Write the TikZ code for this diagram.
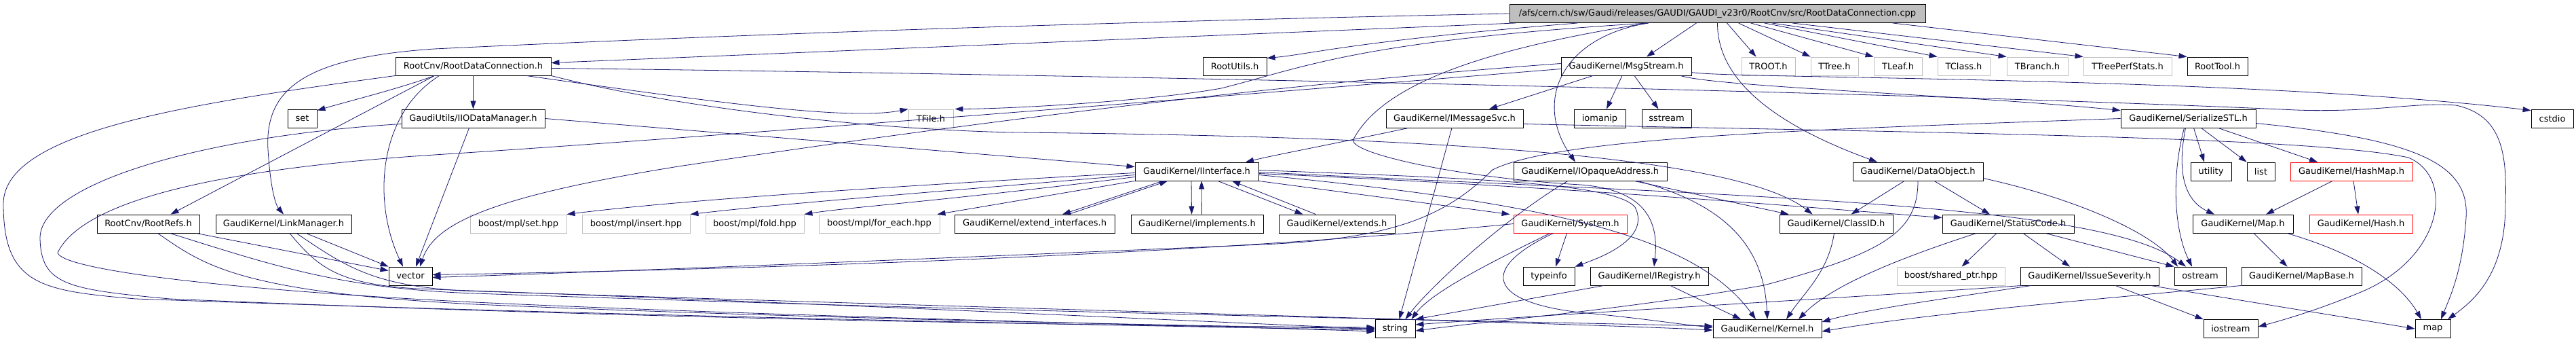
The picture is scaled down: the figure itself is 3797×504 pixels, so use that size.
\documentclass[tikz,border=0pt]{standalone}
\usepackage{fontspec}
\setmainfont{DejaVu Sans}
\usetikzlibrary{arrows.meta}
\definecolor{edgeblue}{HTML}{191970}
\definecolor{greyb}{HTML}{BFBFBF}
\begin{document}
\begin{tikzpicture}[x=1pt,y=-1pt,
  box/.style={draw=black, line width=0.9pt, inner sep=0pt, minimum height=27pt, font=\fontsize{13}{15}\selectfont, text=black},
  gbox/.style={box, draw=greyb},
  rbox/.style={box, draw=red},
  e/.style={draw=edgeblue, line width=0.8pt, -{Triangle[length=12pt,width=8pt]}}]
\useasboundingbox[fill=white] (0,0) rectangle (3797,504);
% row 0
\node[box, fill=greyb, minimum width=613pt] (root) at (2531.5,20) {/afs/cern.ch/sw/Gaudi/releases/GAUDI/GAUDI\_v23r0/RootCnv/src/RootDataConnection.cpp};
% row 1
\node[box, minimum width=229pt] (rdc) at (697.5,97.5) {RootCnv/RootDataConnection.h};
\node[box, minimum width=94pt] (rootutils) at (1820,97.5) {RootUtils.h};
\node[box, minimum width=192pt] (msgstream) at (2397,97.5) {GaudiKernel/MsgStream.h};
\node[gbox, minimum width=79pt] (troot) at (2606.5,97.5) {TROOT.h};
\node[gbox, minimum width=70pt] (ttree) at (2704,97.5) {TTree.h};
\node[gbox, minimum width=71pt] (tleaf) at (2797.5,97.5) {TLeaf.h};
\node[gbox, minimum width=77pt] (tclass) at (2894.5,97.5) {TClass.h};
\node[gbox, minimum width=90pt] (tbranch) at (3003,97.5) {TBranch.h};
\node[gbox, minimum width=130pt] (tperf) at (3136,97.5) {TTreePerfStats.h};
\node[box, minimum width=89pt] (roottool) at (3268.5,97.5) {RootTool.h};
% row 2
\node[box, minimum width=43pt] (set) at (445.5,174.5) {set};
\node[box, minimum width=211pt] (iiodm) at (697.5,174.5) {GaudiUtils/IIODataManager.h};
\node[gbox, minimum width=66pt] (tfile) at (1372,174.5) {TFile.h};
\node[box, minimum width=202pt] (imsgsvc) at (2144,174.5) {GaudiKernel/IMessageSvc.h};
\node[box, minimum width=76pt] (iomanip) at (2358,174.5) {iomanip};
\node[box, minimum width=73pt] (sstream) at (2456.5,174.5) {sstream};
\node[box, minimum width=199pt] (serstl) at (3225.5,174.5) {GaudiKernel/SerializeSTL.h};
\node[box, minimum width=62pt] (cstdio) at (3762,174.5) {cstdio};
% row 3
\node[box, minimum width=182pt] (iinterface) at (1764,252.5) {GaudiKernel/IInterface.h};
\node[box, minimum width=226pt] (iopaque) at (2344,252.5) {GaudiKernel/IOpaqueAddress.h};
\node[box, minimum width=192pt] (dataobj) at (2827,252.5) {GaudiKernel/DataObject.h};
\node[box, minimum width=60pt] (utility) at (3259,252.5) {utility};
\node[box, minimum width=41pt] (list) at (3332.5,252.5) {list};
\node[rbox, minimum width=180pt] (hashmap) at (3466,252.5) {GaudiKernel/HashMap.h};
% row 4
\node[box, minimum width=151pt] (rootrefs) at (218.5,329.5) {RootCnv/RootRefs.h};
\node[box, minimum width=200pt] (linkmgr) at (418,329.5) {GaudiKernel/LinkManager.h};
\node[gbox, minimum width=142pt] (bset) at (764,329.5) {boost/mpl/set.hpp};
\node[gbox, minimum width=159pt] (binsert) at (937.5,329.5) {boost/mpl/insert.hpp};
\node[gbox, minimum width=145pt] (bfold) at (1112.5,329.5) {boost/mpl/fold.hpp};
\node[gbox, minimum width=178pt] (bforeach) at (1296,329.5) {boost/mpl/for\_each.hpp};
\node[box, minimum width=236pt] (extif) at (1525,329.5) {GaudiKernel/extend\_interfaces.h};
\node[box, minimum width=195pt] (implements) at (1764.5,329.5) {GaudiKernel/implements.h};
\node[box, minimum width=171pt] (extends) at (1970.5,329.5) {GaudiKernel/extends.h};
\node[rbox, minimum width=167pt] (system) at (2314.5,329.5) {GaudiKernel/System.h};
\node[box, minimum width=167pt] (classid) at (2706.5,329.5) {GaudiKernel/ClassID.h};
\node[box, minimum width=194pt] (statuscode) at (2960,329.5) {GaudiKernel/StatusCode.h};
\node[box, minimum width=148pt] (mapH) at (3306,329.5) {GaudiKernel/Map.h};
\node[rbox, minimum width=152pt] (hash) at (3480,329.5) {GaudiKernel/Hash.h};
% row 5
\node[box, minimum width=64pt] (vector) at (605,406.5) {vector};
\node[box, minimum width=76pt] (typeinfo) at (2283,406.5) {typeinfo};
\node[box, minimum width=174pt] (iregistry) at (2431,406.5) {GaudiKernel/IRegistry.h};
\node[gbox, minimum width=159pt] (sharedptr) at (2875.5,406.5) {boost/shared\_ptr.hpp};
\node[box, minimum width=204pt] (issuesev) at (3080,406.5) {GaudiKernel/IssueSeverity.h};
\node[box, minimum width=76pt] (ostream) at (3243,406.5) {ostream};
\node[box, minimum width=177pt] (mapbase) at (3392.5,406.5) {GaudiKernel/MapBase.h};
% row 6
\node[box, minimum width=59pt] (string) at (2056.5,484) {string};
\node[box, minimum width=160pt] (kernel) at (2605,484) {GaudiKernel/Kernel.h};
\node[box, minimum width=80pt] (iostream) at (3288,484) {iostream};
\node[box, minimum width=52pt] (map) at (3586,484) {map};

% ---- edges from root
\draw[e] ([xshift=10pt]root.south west) -- ([yshift=5pt]rdc.east);
\draw[e] (root.west) .. controls (1500,35) and (1000,55) .. (640,72) .. controls (450,85) and (390,130) .. (395,220) .. controls (398,270) and (405,300) .. (linkmgr.north);
\draw[e] ([xshift=-206pt]root.south) .. controls (2000,60) and (1930,80) .. ([yshift=-2pt]rootutils.north east);
\draw[e] ([xshift=-102pt]root.south) .. controls (2000,60) and (1920,100) .. (1800,130) .. controls (1700,148) and (1500,160) .. ([xshift=2pt]tfile.north east);
\draw[e] ([xshift=-31pt]root.south) -- ([xshift=30pt]msgstream.north);
\draw[e] ([xshift=14pt]root.south) -- ([xshift=-18pt]troot.north);
\draw[e] ([xshift=31pt]root.south) -- (ttree.north west);
\draw[e] ([xshift=49pt]root.south) -- (tleaf.north west);
\draw[e] ([xshift=69pt]root.south) -- (tclass.north west);
\draw[e] ([xshift=80pt]root.south) -- (tbranch.north west);
\draw[e] ([xshift=110pt]root.south) -- (tperf.north west);
\draw[e] ([xshift=258pt]root.south) -- (roottool.north west);
\draw[e] (root.south) .. controls (2531,120) and (2620,185) .. ([xshift=-60pt]dataobj.north);
\draw[e] ([xshift=-102pt]root.south) .. controls (2300,55) and (2260,150) .. ([xshift=-22pt]iopaque.north);
\draw[e] ([xshift=-102pt]root.south) .. controls (2200,70) and (2040,120) .. (1995,205) .. controls (1985,225) and (2150,262) .. (2330,272) .. controls (2430,280) and (2445,330) .. ([xshift=7pt]iregistry.north);

% ---- RootDataConnection.h
\draw[e] ([xshift=-57pt]rdc.south) .. controls (590,130) and (510,150) .. ([yshift=-2pt]set.north east);
\draw[e] ([xshift=-57pt]rdc.south) -- ([xshift=33pt]rootrefs.north);
\draw[e] ([xshift=-50pt]rdc.south) .. controls (555,170) and (550,300) .. ([xshift=-11pt]vector.north);
\draw[e] (rdc.south) -- (iiodm.north);
\draw[e] ([xshift=78pt]rdc.south) .. controls (1050,150) and (1250,178) .. (tfile.north west);
\draw[e] (rdc.south west) .. controls (300,150) and (5,190) .. (5,300) .. controls (5,420) and (60,428) .. (200,440) .. controls (900,465) and (1600,478) .. ([yshift=-2pt]string.west);
\draw[e] ([yshift=-3pt]rdc.east) .. controls (1500,108) and (2800,135) .. (3384,162) .. controls (3500,166) and (3560,150) .. (3620,155) .. controls (3690,170) and (3695,230) .. (3693,300) .. controls (3693,400) and (3650,440) .. ([xshift=22pt]map.north);
\draw[e] (rdc.south east) .. controls (1000,160) and (1300,192) .. (1500,195) .. controls (2000,200) and (2550,220) .. ([xshift=-35pt]classid.north);

% ---- IIODataManager.h
\draw[e] (iiodm.east) -- ([yshift=7pt]iinterface.west);
\draw[e] ([xshift=-6pt]iiodm.south) -- ([xshift=8pt]vector.north);
\draw[e] ([yshift=-8pt]iiodm.west) .. controls (300,200) and (60,270) .. (59,350) .. controls (60,420) and (100,426) .. (250,440) .. controls (900,468) and (1600,480) .. ([yshift=2pt]string.west);

% ---- RootRefs.h
\draw[e] ([xshift=71pt]rootrefs.south) -- ([yshift=8pt]vector.west);
\draw[e] ([xshift=14pt]rootrefs.south) .. controls (300,390) and (350,430) .. (700,448) .. controls (1200,470) and (1800,480) .. (string.west);
\draw[e] ([xshift=32pt]rootrefs.south) .. controls (400,390) and (500,425) .. (700,432) .. controls (1500,460) and (2300,475) .. ([yshift=4pt]kernel.west);

% ---- LinkManager.h
\draw[e] ([xshift=33pt]linkmgr.south) -- (vector.north west);
\draw[e] ([xshift=9pt]linkmgr.south) .. controls (470,395) and (500,422) .. (640,426) .. controls (1300,450) and (1800,475) .. (string.west);
\draw[e] ([xshift=19pt]linkmgr.south) .. controls (510,393) and (550,420) .. (680,428) .. controls (1500,455) and (2300,475) .. ([yshift=-2pt]kernel.west);

% ---- MsgStream.h
\draw[e] ([xshift=-49pt]msgstream.south) -- ([xshift=51pt]imsgsvc.north);
\draw[e] ([xshift=-6pt]msgstream.south) -- ([xshift=10pt]iomanip.north);
\draw[e] ([xshift=12pt]msgstream.south) -- ([xshift=-12pt]sstream.north);
\draw[e] ([yshift=-9pt]msgstream.east) .. controls (2540,116) and (3300,112) .. ([yshift=-2pt]cstdio.north west);
\draw[e] ([xshift=80pt]msgstream.south) .. controls (2530,128) and (2900,140) .. ([yshift=-2pt]serstl.north west);
\draw[e] ([yshift=4pt]msgstream.west) .. controls (1800,130) and (1300,200) .. (1000,245) .. controls (720,290) and (640,330) .. ([xshift=14pt]vector.north);
\draw[e] ([yshift=-4pt]msgstream.west) .. controls (1700,150) and (1000,205) .. (640,228) .. controls (300,250) and (120,300) .. (85,372) .. controls (90,395) and (300,425) .. (700,445) .. controls (1200,468) and (1800,480) .. ([yshift=-4pt]string.west);

% ---- IMessageSvc.h
\draw[e] ([xshift=-68pt]imsgsvc.south) .. controls (1950,215) and (1880,228) .. ([xshift=72pt]iinterface.north);
\draw[e] ([xshift=-4pt]imsgsvc.south) -- ([xshift=6pt]string.north);
\draw[e] ([yshift=-8pt]imsgsvc.east) .. controls (2800,195) and (3400,200) .. (3550,232) .. controls (3620,262) and (3600,380) .. (3480,430) .. controls (3420,455) and (3370,470) .. ([yshift=3pt]iostream.east);

% ---- IInterface.h
\draw[e] ([yshift=-2pt]iinterface.west) .. controls (1300,275) and (1000,295) .. (bset.north east);
\draw[e] ([yshift=-5pt]iinterface.west) .. controls (1350,285) and (1150,300) .. (binsert.north east);
\draw[e] ([yshift=-8pt]iinterface.west) .. controls (1400,295) and (1250,305) .. (bfold.north east);
\draw[e] (iinterface.south west) -- ([xshift=-4pt]bforeach.north east);
\draw[e] ([xshift=-50pt]iinterface.south) -- ([xshift=41pt]extif.north);
\draw[e] ([xshift=50pt]extif.north) -- ([xshift=-43pt]iinterface.south);
\draw[e] ([xshift=-8pt]iinterface.south) -- ([xshift=-8pt]implements.north);
\draw[e] ([xshift=7pt]implements.north) -- ([xshift=7pt]iinterface.south);
\draw[e] ([xshift=31pt]iinterface.south) -- ([xshift=-50pt]extends.north);
\draw[e] ([xshift=-31pt]extends.north) -- ([xshift=52pt]iinterface.south);
\draw[e] (iinterface.south east) -- ([xshift=-5pt]system.north west);
\draw[e] ([yshift=-3pt]iinterface.east) .. controls (2300,275) and (2600,300) .. ([yshift=9pt]statuscode.west);
\draw[e] ([yshift=-5pt]iinterface.east) .. controls (2300,300) and (2500,350) .. ([xshift=-17pt]kernel.north);
\draw[e] ([yshift=2pt]iinterface.east) .. controls (2150,262) and (2380,268) .. (2410,305) .. controls (2430,345) and (2380,372) .. (typeinfo.north east);
\draw[e] ([yshift=-1pt]iinterface.east) .. controls (2600,290) and (3100,300) .. ([xshift=-21pt]ostream.north);

% ---- System.h
\draw[e] ([xshift=-5pt]system.south) -- ([xshift=10pt]typeinfo.north);
\draw[e] ([xshift=-30pt]system.south) .. controls (2200,385) and (2110,430) .. ([xshift=24pt]string.north);
\draw[e] ([xshift=-25pt]system.south) .. controls (2170,400) and (2200,450) .. (2350,462) .. controls (2430,470) and (2480,478) .. ([yshift=2pt]kernel.west);
\draw[e] (system.west) .. controls (1800,372) and (1200,395) .. ([yshift=2pt]vector.east);

% ---- SerializeSTL.h
\draw[e] (serstl.west) .. controls (2700,190) and (2300,200) .. (2200,250) .. controls (2130,320) and (2050,352) .. (1860,360) .. controls (1400,380) and (900,400) .. ([yshift=-2pt]vector.east);
\draw[e] ([xshift=-6pt]serstl.south) .. controls (3200,260) and (3205,340) .. ([xshift=-12pt]ostream.north);
\draw[e] ([xshift=-4pt]serstl.south) .. controls (3205,270) and (3230,300) .. ([xshift=-42pt]mapH.north);
\draw[e] ([xshift=8pt]serstl.south) -- ([xshift=-10pt]utility.north);
\draw[e] ([xshift=19pt]serstl.south) -- (list.north west);
\draw[e] ([xshift=44pt]serstl.south) -- ([xshift=-50pt]hashmap.north);
\draw[e] ([yshift=-7pt]serstl.east) .. controls (3560,205) and (3640,240) .. (3635,320) .. controls (3630,400) and (3610,440) .. ([xshift=12pt]map.north);

% ---- HashMap.h, Map.h, MapBase.h
\draw[e] ([xshift=-28pt]hashmap.south) -- ([xshift=34pt]mapH.north);
\draw[e] ([xshift=3pt]hashmap.south) -- ([xshift=-4pt]hash.north);
\draw[e] ([xshift=16pt]mapH.south) -- ([xshift=-21pt]mapbase.north);
\draw[e] ([xshift=65pt]mapH.south) .. controls (3480,375) and (3540,420) .. ([xshift=-17pt]map.north);
\draw[e] (mapbase.south west) .. controls (3100,440) and (2850,460) .. ([yshift=-4pt]kernel.east);

% ---- IssueSeverity.h
\draw[e] ([xshift=-86pt]issuesev.south) .. controls (2900,435) and (2750,455) .. ([yshift=10pt]kernel.east);
\draw[e] ([xshift=-100pt]issuesev.south) .. controls (2700,440) and (2300,462) .. ([yshift=6pt]string.east);
\draw[e] ([xshift=38pt]issuesev.south) -- (iostream.north west);
\draw[e] ([xshift=90pt]issuesev.south) -- (map.west);

% ---- StatusCode.h
\draw[e] ([xshift=55pt]statuscode.south) -- (ostream.north west);
\draw[e] ([xshift=-47pt]statuscode.south) .. controls (2800,380) and (2700,420) .. ([xshift=46pt]kernel.north);
\draw[e] ([xshift=22pt]statuscode.south) -- ([xshift=-29pt]issuesev.north);
\draw[e] ([xshift=-17pt]statuscode.south) -- ([xshift=16pt]sharedptr.north);

% ---- DataObject.h
\draw[e] ([xshift=-20pt]dataobj.south) -- ([xshift=22pt]classid.north);
\draw[e] ([xshift=24pt]dataobj.south) -- ([xshift=-27pt]statuscode.north);
\draw[e] (dataobj.south) .. controls (2827,340) and (2780,372) .. (2600,420) .. controls (2400,455) and (2200,472) .. ([yshift=-3pt]string.east);
\draw[e] ([yshift=-10pt]dataobj.east) .. controls (3050,290) and (3170,340) .. ([xshift=-33pt]ostream.north);

% ---- ClassID.h
\draw[e] ([xshift=-3pt]classid.south) .. controls (2695,400) and (2660,430) .. ([xshift=28pt]kernel.north);

% ---- IOpaqueAddress.h
\draw[e] ([xshift=-33pt]iopaque.south) .. controls (2220,320) and (2110,420) .. ([xshift=15pt]string.north);
\draw[e] ([xshift=65pt]iopaque.south) -- ([xshift=-70pt]classid.north);
\draw[e] ([xshift=70pt]iopaque.south) .. controls (2540,300) and (2600,360) .. (kernel.north);

% ---- IRegistry.h
\draw[e] ([xshift=-67pt]iregistry.south) -- (string.north east);
\draw[e] ([xshift=31pt]iregistry.south) -- ([xshift=-39pt]kernel.north);
\end{tikzpicture}
\end{document}
